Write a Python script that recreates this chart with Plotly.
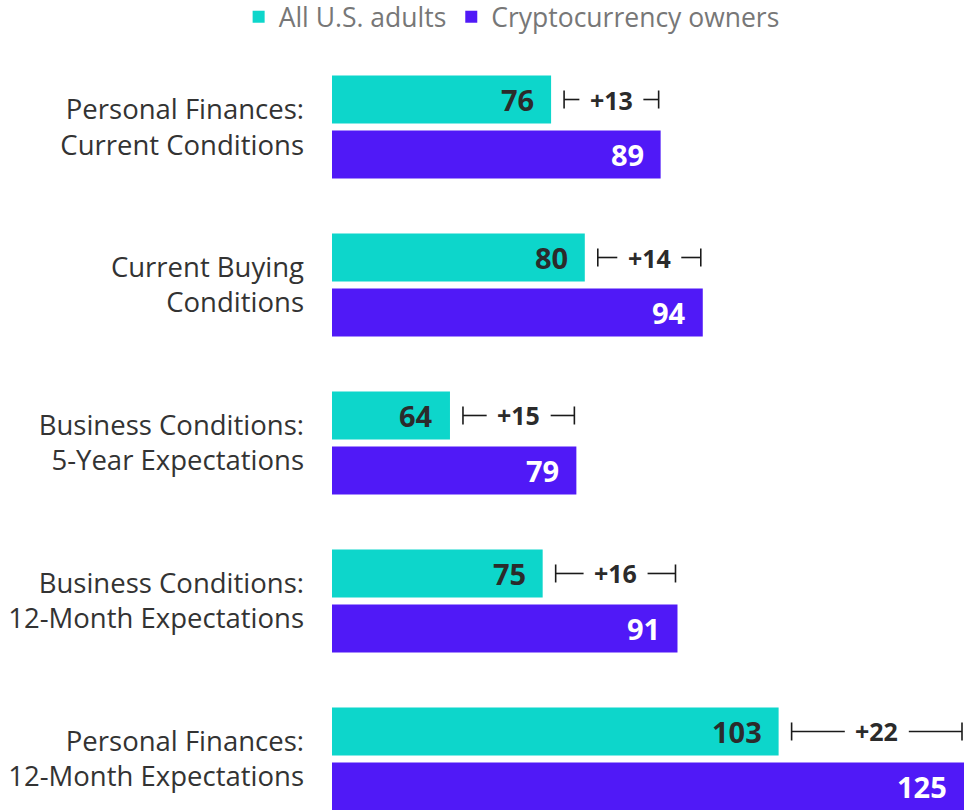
import plotly.graph_objects as go

categories = [
    "Personal Finances:<br>Current Conditions",
    "Current Buying<br>Conditions",
    "Business Conditions:<br>5-Year Expectations",
    "Business Conditions:<br>12-Month Expectations",
    "Personal Finances:<br>12-Month Expectations",
]
all_adults = [76, 80, 64, 75, 103]
crypto_owners = [89, 94, 79, 91, 125]
series_names = ["All U.S. adults", "Cryptocurrency owners"]

TEAL = "#0DD6CB"
PURPLE = "#5019F7"
DARK = "#2b2b2b"
FONT = "Open Sans"

# layout constants (pixels -> data units)
PX_X = 632 / 75.0      # px per x unit
PX_Y = 158.0           # px per category
OFF = 0.174            # half slot offset of grouped bars

fig = go.Figure()
fig.add_trace(go.Bar(y=categories, x=all_adults, orientation="h", name=series_names[0],
                     marker=dict(color=TEAL, line=dict(width=0)), hoverinfo="x"))
fig.add_trace(go.Bar(y=categories, x=crypto_owners, orientation="h", name=series_names[1],
                     marker=dict(color=PURPLE, line=dict(width=0)), hoverinfo="x"))

annotations = []
shapes = []
for i, (a, c) in enumerate(zip(all_adults, crypto_owners)):
    annotations.append(dict(x=a, y=i - OFF, xref="x", yref="y", text=f"<b>{a}</b>",
                            showarrow=False, xanchor="right", xshift=-15,
                            font=dict(family=FONT, size=29, color=DARK)))
    annotations.append(dict(x=c, y=i + OFF, xref="x", yref="y", text=f"<b>{c}</b>",
                            showarrow=False, xanchor="right", xshift=-15,
                            font=dict(family=FONT, size=29, color="white")))
    d = c - a
    x0 = a + 13 / PX_X
    x1 = c - 2 / PX_X
    xm = (x0 + x1) / 2
    gap = 32 / PX_X
    yc = i - OFF
    h = 9 / PX_Y
    annotations.append(dict(x=xm, y=yc, xref="x", yref="y", text=f"<b>+{d}</b>",
                            showarrow=False, xanchor="center",
                            font=dict(family=FONT, size=25, color=DARK)))
    line = dict(color="#1a1a1a", width=1.6)
    shapes.append(dict(type="line", xref="x", yref="y", x0=x0, x1=xm - gap, y0=yc, y1=yc, line=line))
    shapes.append(dict(type="line", xref="x", yref="y", x0=xm + gap, x1=x1, y0=yc, y1=yc, line=line))
    shapes.append(dict(type="line", xref="x", yref="y", x0=x0, x1=x0, y0=yc - h, y1=yc + h, line=line))
    shapes.append(dict(type="line", xref="x", yref="y", x0=x1, x1=x1, y0=yc - h, y1=yc + h, line=line))

fig.update_layout(
    width=969, height=810,
    margin=dict(l=332, r=5, t=48, b=0),
    paper_bgcolor="white", plot_bgcolor="white",
    barmode="group", bargap=0.304, bargroupgap=0.127,
    font=dict(family=FONT, color="#333333"),
    showlegend=True,
    legend=dict(orientation="h", xref="container", yref="container",
                x=0.528, xanchor="center", y=0.979, yanchor="middle",
                font=dict(family=FONT, size=26.5, color="#777777"),
                traceorder="normal", itemclick=False),
    annotations=annotations,
    shapes=shapes,
)
fig.update_xaxes(range=[50, 125], visible=False, showgrid=False, zeroline=False)
fig.update_yaxes(range=[4.323, -0.5], showgrid=False, zeroline=False, showline=False,
                 ticks="", ticklabelstandoff=27,
                 tickfont=dict(family=FONT, size=27.5, color="#333333"))

fig.write_html("out.html", config={"displayModeBar": False},
               post_script="document.body.style.margin='0';")
